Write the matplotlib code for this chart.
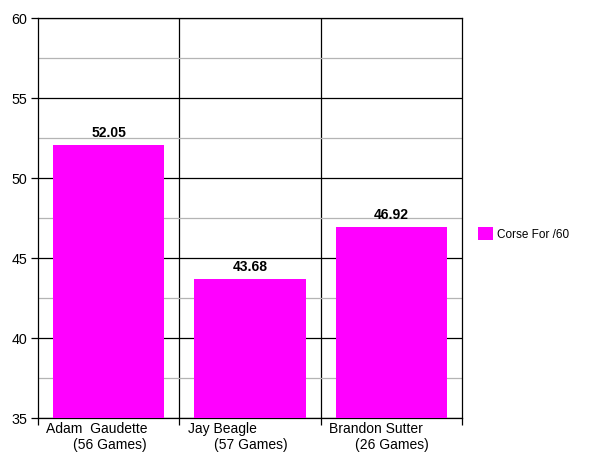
import matplotlib.pyplot as plt
import numpy as np
from matplotlib.ticker import MultipleLocator

players = ['Adam  Gaudette', 'Jay Beagle', 'Brandon Sutter']
games = ['(56 Games)', '(57 Games)', '(26 Games)']
corsi_for = [52.05, 43.68, 46.92]

plt.rcParams['font.family'] = ['Liberation Sans', 'DejaVu Sans']

fig = plt.figure(figsize=(6, 4.63), dpi=100)
ax = fig.add_axes([38 / 600, 1 - 418 / 463, 424 / 600, 400 / 463])

x = np.arange(len(players))
bars = ax.bar(x, corsi_for, 0.79, color='#ff00ff', label='Corse For /60', zorder=3)

for xi, v in zip(x, corsi_for):
    ax.text(xi, v + 0.35, f'{v:.2f}', ha='center', va='bottom',
            fontsize=10, fontweight='bold', zorder=4)

ax.set_xlim(-0.5, 2.5)
ax.set_ylim(35, 60)
ax.yaxis.set_major_locator(MultipleLocator(5))
ax.yaxis.set_minor_locator(MultipleLocator(2.5))
ax.grid(axis='y', which='major', color='black', linewidth=0.9, zorder=1)
ax.grid(axis='y', which='minor', color='#b4b4b4', linewidth=0.9, zorder=1)
for b in [0.5, 1.5]:
    ax.axvline(b, color='black', linewidth=0.9, zorder=1)

ax.set_xticks([-0.5, 0.5, 1.5, 2.5])
ax.set_xticklabels([])
ax.tick_params(axis='x', length=5, width=0.9, color='black')
ax.tick_params(axis='y', which='major', length=5, width=0.9, labelsize=10.3, pad=2.5)
ax.tick_params(axis='y', which='minor', length=0)
for s in ax.spines.values():
    s.set_linewidth(0.9)
    s.set_color('black')

# two-line category labels, second line indented like the original
for xi, name, g in zip(x, players, games):
    ax.text(xi - 0.5 + 0.058, -0.011, name, transform=ax.get_xaxis_transform(),
            ha='left', va='top', fontsize=10)
    ax.text(xi - 0.5 + 0.245, -0.05, g, transform=ax.get_xaxis_transform(),
            ha='left', va='top', fontsize=10)

ax.legend(loc='center left', bbox_to_anchor=(1.0377, 0.46), frameon=False,
          fontsize=8.5, handlelength=1.25, handleheight=1.25, handletextpad=0.4,
          borderpad=0, borderaxespad=0)

fig.savefig('out.png', dpi=100)
